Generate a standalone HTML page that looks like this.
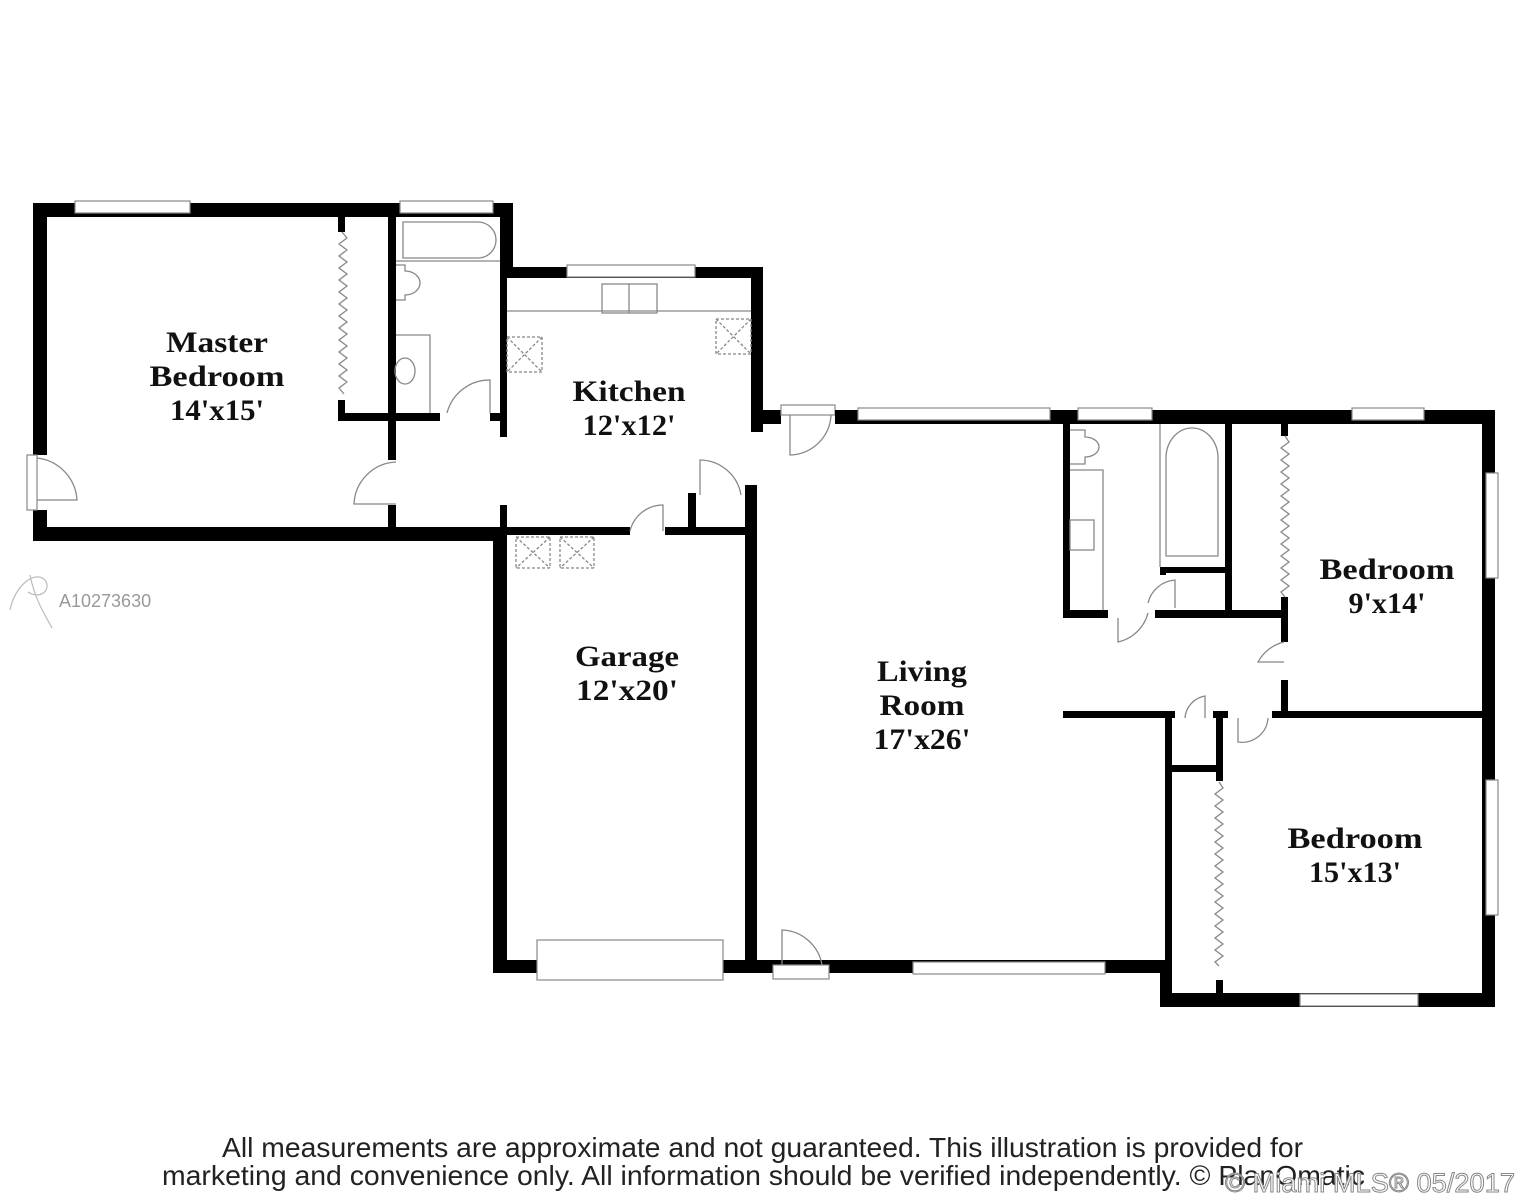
<!DOCTYPE html>
<html><head><meta charset="utf-8"><style>
html,body{margin:0;padding:0;background:#fff;}
svg{display:block}
.w{fill:#000}
.t{font-family:"Liberation Serif",serif;font-weight:bold;font-size:30px;fill:#111;text-anchor:middle}
.l{fill:none;stroke:#888;stroke-width:1.3}
.win{fill:#fff;stroke:#888;stroke-width:1.2}
</style></head><body>
<svg width="1524" height="1200" viewBox="0 0 1524 1200" xmlns="http://www.w3.org/2000/svg">
<rect class="w" x="33" y="203" width="14" height="252"/>
<rect class="w" x="33" y="510" width="14" height="31"/>
<rect class="w" x="33" y="203" width="480" height="14"/>
<rect class="w" x="500" y="203" width="13" height="75"/>
<rect class="w" x="33" y="527" width="470" height="14"/>
<rect class="win" x="27" y="455" width="10" height="55"/>
<path class="l" d="M37 458 A45 45 0 0 1 77 500 L37 500"/>
<rect class="win" x="75" y="201" width="115" height="12"/>
<rect class="win" x="400" y="201" width="93" height="12"/>
<rect class="w" x="338" y="217" width="7" height="15"/>
<rect class="w" x="338" y="400" width="7" height="20"/>
<path class="l" d="M342 232 l5 6 l-8 6 l8 6 l-8 6 l8 6 l-8 6 l8 6 l-8 6 l8 6 l-8 6 l8 6 l-8 6 l8 6 l-8 6 l8 6 l-8 6 l8 6 l-8 6 l8 6 l-8 6 l8 6 l-8 6 l8 6 l-8 6 l8 6 l-8 6 l5 6"/>
<rect class="w" x="338" y="413" width="102" height="8"/>
<rect class="w" x="490" y="413" width="10" height="8"/>
<rect class="w" x="388" y="217" width="8" height="243"/>
<rect class="w" x="388" y="505" width="8" height="30"/>
<path class="l" d="M396 462 A44 44 0 0 0 354 504 L396 504"/>
<path class="l" d="M447 413 A44 44 0 0 1 490 380 L490 413"/>
<path class="l" d="M403 222 L478 222 A18 18 0 0 1 478 258 L403 258 Z"/>
<path class="l" d="M396 261 L500 261"/>
<path class="l" d="M396 265 L405 265 L405 271 A15 12 0 1 1 405 295 L405 300 L396 300"/>
<path class="l" d="M396 335 L430 335 L430 413"/>
<ellipse class="l" cx="405" cy="371" rx="10" ry="13"/>
<rect class="w" x="500" y="267" width="263" height="11"/>
<rect class="win" x="567" y="265" width="128" height="12"/>
<rect class="w" x="751" y="267" width="12" height="165"/>
<rect class="w" x="751" y="410" width="30" height="14"/>
<rect class="w" x="500" y="267" width="7" height="170"/>
<rect class="w" x="500" y="505" width="7" height="30"/>
<path class="l" d="M507 311 L751 311"/>
<rect class="l" x="602" y="284" width="55" height="29"/>
<path class="l" d="M629 284 L629 313"/>
<rect class="l" x="507" y="337" width="35" height="35" stroke-dasharray="3 2"/>
<path class="l" d="M507 337 L542 372 M542 337 L507 372" stroke-dasharray="3 2"/>
<rect class="l" x="716" y="319" width="35" height="35" stroke-dasharray="3 2"/>
<path class="l" d="M716 319 L751 354 M751 319 L716 354" stroke-dasharray="3 2"/>
<rect class="win" x="781" y="405" width="54" height="10"/>
<path class="l" d="M790 415 L790 455 A42 42 0 0 0 831 415"/>
<rect class="w" x="835" y="410" width="660" height="14"/>
<rect class="win" x="858" y="408" width="192" height="12"/>
<rect class="win" x="1078" y="408" width="74" height="12"/>
<rect class="win" x="1352" y="408" width="72" height="12"/>
<rect class="w" x="1482" y="410" width="13" height="597"/>
<rect class="win" x="1486" y="473" width="12" height="105"/>
<rect class="win" x="1486" y="780" width="12" height="135"/>
<rect class="w" x="1160" y="993" width="335" height="14"/>
<rect class="win" x="1300" y="994" width="118" height="12"/>
<rect class="w" x="1160" y="960" width="12" height="47"/>
<rect class="w" x="1165" y="712" width="7" height="295"/>
<rect class="w" x="493" y="527" width="14" height="446"/>
<rect class="w" x="745" y="485" width="12" height="488"/>
<rect class="w" x="500" y="527" width="130" height="8"/>
<rect class="w" x="665" y="527" width="90" height="8"/>
<rect class="w" x="688" y="493" width="8" height="40"/>
<path class="l" d="M630 531 A34 34 0 0 1 663 505 L663 531"/>
<path class="l" d="M700 495 L700 460 A42 42 0 0 1 741 495"/>
<rect class="l" x="516" y="537" width="34" height="31" stroke-dasharray="3 2"/>
<path class="l" d="M516 537 L550 568 M550 537 L516 568" stroke-dasharray="3 2"/>
<rect class="l" x="560" y="537" width="34" height="31" stroke-dasharray="3 2"/>
<path class="l" d="M560 537 L594 568 M594 537 L560 568" stroke-dasharray="3 2"/>
<rect class="w" x="493" y="960" width="672" height="13"/>
<rect class="win" x="537" y="940" width="186" height="40"/>
<rect class="win" x="773" y="965" width="56" height="14"/>
<path class="l" d="M782 965 L782 930 A42 42 0 0 1 822 965"/>
<rect class="win" x="913" y="962" width="192" height="12"/>
<rect class="w" x="1063" y="424" width="7" height="194"/>
<rect class="w" x="1063" y="610" width="45" height="8"/>
<rect class="w" x="1155" y="610" width="132" height="8"/>
<rect class="w" x="1225" y="424" width="7" height="190"/>
<rect class="w" x="1160" y="567" width="70" height="6"/>
<rect class="w" x="1160" y="567" width="6" height="8"/>
<rect class="w" x="1281" y="424" width="7" height="12"/>
<rect class="w" x="1281" y="597" width="7" height="45"/>
<rect class="w" x="1281" y="680" width="7" height="35"/>
<rect class="w" x="1063" y="711" width="112" height="7"/>
<rect class="w" x="1213" y="711" width="15" height="7"/>
<rect class="w" x="1272" y="711" width="215" height="7"/>
<rect class="w" x="1216" y="711" width="7" height="70"/>
<rect class="w" x="1165" y="765" width="55" height="7"/>
<path class="l" d="M1285 436 l4 6 l-8 6 l8 6 l-8 6 l8 6 l-8 6 l8 6 l-8 6 l8 6 l-8 6 l8 6 l-8 6 l8 6 l-8 6 l8 6 l-8 6 l8 6 l-8 6 l8 6 l-8 6 l8 6 l-8 6 l8 6 l-8 6 l8 6 l-8 6 l4 5"/>
<path class="l" d="M1219 782 l4 6 l-8 6 l8 6 l-8 6 l8 6 l-8 6 l8 6 l-8 6 l8 6 l-8 6 l8 6 l-8 6 l8 6 l-8 6 l8 6 l-8 6 l8 6 l-8 6 l8 6 l-8 6 l8 6 l-8 6 l8 6 l-8 6 l8 6 l-8 6 l8 6 l-8 6 l8 6 l-8 6 l4 4"/>
<rect class="w" x="1216" y="980" width="7" height="15"/>
<path class="l" d="M1070 430 L1085 430 L1085 437 A14 10 0 1 1 1085 457 L1085 464 L1070 464 M1070 470 L1103 470 L1103 610"/>
<rect class="l" x="1070" y="520" width="24" height="30"/>
<path class="l" d="M1160 424 L1160 567 M1166 556 L1166 458 A26 30 0 0 1 1218 458 L1218 556 Z"/>
<path class="l" d="M1118 618 L1118 642 A40 40 0 0 0 1148 613 M1148 603 A30 30 0 0 1 1175 580 L1175 608"/>
<path class="l" d="M1284 642 A40 40 0 0 0 1258 662 L1284 662 M1238 718 L1238 742 A26 26 0 0 0 1268 718 M1185 718 A24 24 0 0 1 1205 696 L1205 718"/>
<text class="t" x="217" y="352" textLength="102" lengthAdjust="spacingAndGlyphs">Master</text>
<text class="t" x="217" y="386" textLength="135" lengthAdjust="spacingAndGlyphs">Bedroom</text>
<text class="t" x="217" y="420" textLength="94" lengthAdjust="spacingAndGlyphs">14'x15'</text>
<text class="t" x="629" y="401" textLength="113" lengthAdjust="spacingAndGlyphs">Kitchen</text>
<text class="t" x="629" y="435" textLength="93" lengthAdjust="spacingAndGlyphs">12'x12'</text>
<text class="t" x="627" y="666" textLength="104" lengthAdjust="spacingAndGlyphs">Garage</text>
<text class="t" x="627" y="700" textLength="102" lengthAdjust="spacingAndGlyphs">12'x20'</text>
<text class="t" x="922" y="681" textLength="90" lengthAdjust="spacingAndGlyphs">Living</text>
<text class="t" x="922" y="715" textLength="85" lengthAdjust="spacingAndGlyphs">Room</text>
<text class="t" x="922" y="749" textLength="97" lengthAdjust="spacingAndGlyphs">17'x26'</text>
<text class="t" x="1387" y="579" textLength="135" lengthAdjust="spacingAndGlyphs">Bedroom</text>
<text class="t" x="1387" y="613" textLength="77" lengthAdjust="spacingAndGlyphs">9'x14'</text>
<text class="t" x="1355" y="848" textLength="135" lengthAdjust="spacingAndGlyphs">Bedroom</text>
<text class="t" x="1355" y="882" textLength="92" lengthAdjust="spacingAndGlyphs">15'x13'</text>
<path d="M10 610 C15 585 35 570 45 580 C52 590 40 600 28 592 M30 575 C35 600 45 615 52 628" fill="none" stroke="#bbb" stroke-width="1.2"/>
<text x="59" y="607" font-family="Liberation Sans,sans-serif" font-size="18" fill="#999">A10273630</text>
<text x="222" y="1157" font-family="Liberation Sans,sans-serif" font-size="28" fill="#222" textLength="1081" lengthAdjust="spacingAndGlyphs">All measurements are approximate and not guaranteed. This illustration is provided for</text>
<text x="162" y="1185" font-family="Liberation Sans,sans-serif" font-size="28" fill="#222" textLength="1203" lengthAdjust="spacingAndGlyphs">marketing and convenience only. All information should be verified independently. © PlanOmatic</text>
<text x="1225" y="1192" font-family="Liberation Sans,sans-serif" font-size="27" fill="#fff" stroke="#888" stroke-width="1" textLength="290" lengthAdjust="spacingAndGlyphs">© Miami MLS® 05/2017</text>
</svg>
</body></html>
